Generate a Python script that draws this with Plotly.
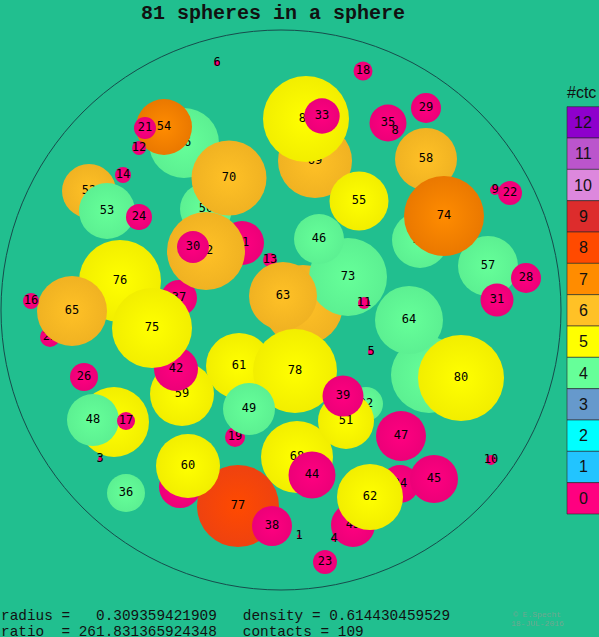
import plotly.graph_objects as go

# ---- data: spheres in drawing order (back to front); units: container radius = 280
labels = [79, 71, 56, 66, 52, 50, 67, 68, 40, 32, 34, 43, 37, 41, 25, 69, 13,
          81, 33, 54, 21, 12, 14, 6, 18, 29, 35, 8, 58, 55, 70, 53, 24, 72, 30,
          76, 65, 16, 59, 42, 75, 26, 48, 17, 3, 36, 73, 46, 11, 63, 57, 74, 31,
          28, 22, 9, 64, 80, 5, 61, 78, 19, 49, 51, 39, 47, 77, 60, 38, 1, 44,
          62, 45, 4, 23, 10]
xs = [22, 148, 139, -97, -192, -75, -167, 16, -101, 85, 119, 72, -102, -39, -231, 34, -11,
      25, 41, -117, -136, -142, -158, -64, 82, 145, 107, 114, 145, 78, -52, -174, -142, -75, -88,
      -161, -209, -250, -99, -105, -129, -197, -188, -155, -181, -155, 67, 38, 83, 2, 207, 163, 216,
      245, 229, 214, 128, 180, 90, -42, 14, -46, -32, 65, 62, 120, -43, -93, -9, 18, 31,
      89, 153, 53, 44, 210]
ys = [5, -65, 70, 167, 119, 101, -112, -147, -177, -94, -174, -215, 12, 67, -27, 149, 50,
      191, 194, 183, 182, 162, 135, 247, 239, 202, 187, 179, 151, 109, 132, 99, 93, 59, 63,
      29, -1, 9, -84, -59, -18, -67, -110, -111, -149, -183, 33, 71, 7, 14, 44, 94, 10,
      32, 117, 120, -10, -68, -42, -56, -61, -127, -99, -111, -86, -126, -196, -156, -216, -226, -165,
      -187, -169, -229, -252, -150]
rs = [40, 38, 28, 35, 27, 26, 35, 36, 21, 17, 19, 22, 18, 22, 10, 37, 7,
      43, 17.7, 28, 11, 7, 8, 3, 9.5, 15, 18.5, 3, 31, 29.5, 37.5, 28, 13, 39, 16,
      41, 35, 8, 32, 22, 40, 14, 26, 9, 2, 19, 39, 25, 6, 34, 30, 40, 16.5,
      15, 12, 5, 34, 43, 3, 33, 42, 10, 26, 28, 20.5, 25, 41, 32, 20, 1.5, 23.5,
      33, 24, 2.5, 12, 5]
ctc = [6, 4, 4, 4, 6, 4, 5, 5, 0, 4, 0, 0, 0, 0, 0, 6, 0,
       5, 0, 7, 0, 0, 0, 0, 0, 0, 0, 0, 6, 5, 6, 4, 0, 6, 0,
       5, 6, 0, 5, 0, 5, 0, 4, 0, 0, 4, 4, 4, 0, 6, 4, 7, 0,
       0, 0, 0, 4, 5, 0, 5, 5, 0, 4, 5, 0, 0, 8, 5, 0, 0, 0,
       5, 0, 0, 0, 0]

container_radius = 280
legend_levels = [12, 11, 10, 9, 8, 7, 6, 5, 4, 3, 2, 1, 0]
legend_colors = ['#8E00CC', '#BB55CC', '#DD88DD', '#DD2C2C', '#FF4A00', '#FF8C00',
                 '#FFC126', '#FFFF00', '#66FF99', '#6699CC', '#00FFFF', '#22C4FF', '#FF0080']
edge_colors = {0: '#EC0078', 4: '#5CF092', 5: '#F2EE00', 6: '#F0B222', 7: '#EA7800', 8: '#EE4210'}

title_text = "81 spheres in a sphere"
info_line1 = "radius =   0.309359421909   density = 0.614430459529"
info_line2 = "ratio  = 261.831365924348   contacts = 109"

# ---- figure geometry
W, H = 599, 637
cx_px, cy_px = 281, 310
x_range = [-cx_px, W - cx_px]
y_range = [cy_px - H, cy_px]
px_per_unit = W / (x_range[1] - x_range[0])
BG = '#21BF8F'

center_color = dict(zip(legend_levels, legend_colors))

fig = go.Figure()
for lab, x, y, r, c in zip(labels, xs, ys, rs, ctc):
    fig.add_trace(go.Scatter(
        x=[x], y=[y], mode='markers+text', text=[str(lab)],
        textposition='middle center',
        textfont=dict(family='DejaVu Sans Mono', size=12, color='#000000'),
        marker=dict(size=2 * r * px_per_unit, color=edge_colors[c],
                    gradient=dict(type='radial', color=center_color[c]),
                    line=dict(width=0)),
        hoverinfo='skip', showlegend=False, cliponaxis=False))

shapes = [dict(type='circle', xref='x', yref='y', layer='below',
               x0=-container_radius, y0=-container_radius,
               x1=container_radius, y1=container_radius,
               line=dict(color='#174C4C', width=1))]

def px(xp):
    return xp / W

def py(yp):
    return 1 - yp / H

annotations = []
box_x0, box_x1, box_top, box_h = 567, 600, 106.7, 31.33
for i, (lev, col) in enumerate(zip(legend_levels, legend_colors)):
    t = box_top + i * box_h
    shapes.append(dict(type='rect', xref='paper', yref='paper',
                       x0=px(box_x0), x1=px(box_x1), y0=py(t + box_h), y1=py(t),
                       fillcolor=col, line=dict(color='rgba(40,40,40,0.6)', width=1)))
    annotations.append(dict(xref='paper', yref='paper', x=px(583), y=py(t + box_h / 2),
                            text=str(lev), showarrow=False, xanchor='center', yanchor='middle',
                            font=dict(family='Liberation Sans', size=16, color='#111111')))
annotations.append(dict(xref='paper', yref='paper', x=px(565), y=py(92), text='#ctc',
                        showarrow=False, xanchor='left', yanchor='middle',
                        font=dict(family='Liberation Sans', size=16, color='#111111')))
annotations.append(dict(xref='paper', yref='paper', x=px(273), y=py(0), text='<b>%s</b>' % title_text,
                        showarrow=False, xanchor='center', yanchor='top',
                        font=dict(family='Liberation Mono', size=20, color='#111111')))
for line, yy in ((info_line1, 616), (info_line2, 632)):
    annotations.append(dict(xref='paper', yref='paper', x=px(-1), y=py(yy),
                            text=line.replace(' ', '&nbsp;'),
                            showarrow=False, xanchor='left', yanchor='middle',
                            font=dict(family='Liberation Mono', size=14.4, color='#111111')))
for txt, yy in (('© E.Specht', 614), ('18-JUL-2016', 623)):
    annotations.append(dict(xref='paper', yref='paper', x=px(537), y=py(yy), text=txt,
                            showarrow=False, xanchor='center', yanchor='middle',
                            font=dict(family='Liberation Mono', size=8, color='#6FA890')))

fig.update_layout(
    width=W, height=H, autosize=False,
    margin=dict(l=0, r=0, t=0, b=0, pad=0),
    paper_bgcolor=BG, plot_bgcolor=BG,
    xaxis=dict(range=x_range, visible=False, fixedrange=True),
    yaxis=dict(range=y_range, visible=False, fixedrange=True),
    shapes=shapes, annotations=annotations,
    hovermode=False, showlegend=False,
)

fig.write_html("out.html", config={'displayModeBar': False})
